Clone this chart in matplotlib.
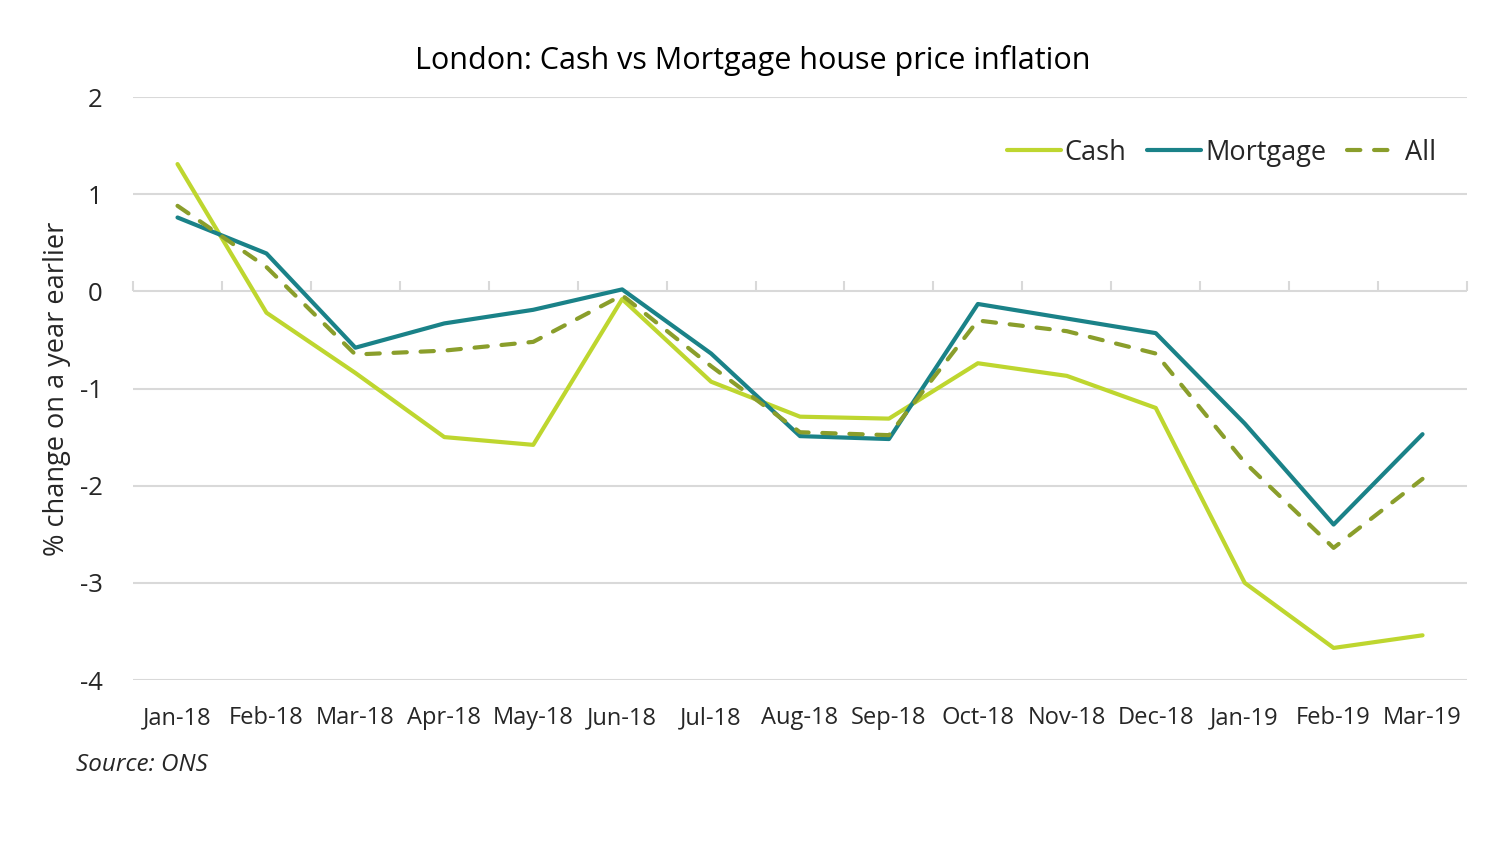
import numpy as np
import matplotlib.pyplot as plt

plt.rcParams['font.family'] = ['Open Sans', 'DejaVu Sans']

# Daten
months = ["Jan-18", "Feb-18", "Mar-18", "Apr-18", "May-18", "Jun-18", "Jul-18",
          "Aug-18", "Sep-18", "Oct-18", "Nov-18", "Dec-18", "Jan-19", "Feb-19", "Mar-19"]
cash = [1.31, -0.22, -0.84, -1.50, -1.58, -0.08, -0.93, -1.29, -1.31,
        -0.74, -0.87, -1.20, -3.00, -3.67, -3.54]
mortgage = [0.76, 0.39, -0.58, -0.33, -0.19, 0.02, -0.64, -1.49, -1.52,
            -0.13, -0.28, -0.43, -1.36, -2.40, -1.47]
all_ = [0.88, 0.25, -0.65, -0.61, -0.52, -0.04, -0.77, -1.45, -1.48,
        -0.30, -0.41, -0.64, -1.76, -2.64, -1.93]

c_cash = "#BED62F"
c_mort = "#1A8288"
c_all = "#8A9E2B"
grid_c = "#D9D9D9"
txt_c = "#262626"

x = np.arange(len(months))

fig = plt.figure(figsize=(15, 8.6), dpi=100)
ax = fig.add_axes([0.0887, 0.2093, 0.8893, 0.6779])

ax.plot(x, cash, color=c_cash, lw=3, label="Cash", solid_capstyle="round", solid_joinstyle="round")
ax.plot(x, mortgage, color=c_mort, lw=3, label="Mortgage", solid_capstyle="round", solid_joinstyle="round")
ax.plot(x, all_, color=c_all, lw=3, ls=(0, (3.2, 3.3)), label="All", dash_capstyle="round")

ax.set_xlim(-0.5, len(months) - 0.5)
ax.set_ylim(-4, 2)
ax.set_yticks(range(-4, 3))
ax.set_yticklabels([str(v) for v in range(-4, 3)])
ax.set_xticks(x)
ax.set_xticklabels(months)
ax.tick_params(axis="x", length=0, pad=19, labelsize=17, labelcolor=txt_c)
ax.tick_params(axis="y", length=0, pad=22, labelsize=18.5, labelcolor=txt_c)
for s in ax.spines.values():
    s.set_visible(False)
ax.yaxis.grid(True, color=grid_c, lw=1.5)
ax.set_axisbelow(True)

# Achse bei Null mit Trennstrichen
sec = ax.secondary_xaxis(4 / 6)
sec.set_xticks(np.arange(-0.5, len(months), 1))
sec.set_xticklabels([])
sec.tick_params(axis="x", direction="out", length=7, width=1.5, color=grid_c)
sec.spines["bottom"].set_color(grid_c)
sec.spines["bottom"].set_linewidth(1.5)
for k in ["top", "left", "right"]:
    sec.spines[k].set_visible(False)

ax.set_ylabel("% change on a year earlier", fontsize=19.5, color=txt_c, labelpad=6)
fig.text(0.502, 0.93, "London: Cash vs Mortgage house price inflation",
         fontsize=22, color="black", ha="center", va="center")

leg = ax.legend(loc="upper right", ncol=3, frameon=False, fontsize=19.5,
                handlelength=2.0, handletextpad=0.15, columnspacing=0.75,
                bbox_to_anchor=(0.995, 0.97))
for t in leg.get_texts():
    t.set_color(txt_c)

fig.text(0.051, 0.111, "Source: ONS", fontsize=17.5, style="italic", color=txt_c, va="center")

fig.savefig("out.png", dpi=100)
